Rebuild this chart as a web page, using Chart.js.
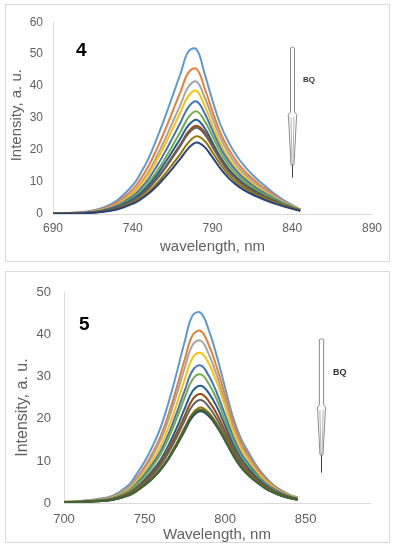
<!DOCTYPE html>
<html>
<head>
<meta charset="utf-8">
<script src="https://cdn.jsdelivr.net/npm/chart.js@4.4.0/dist/chart.umd.min.js"></script>
<style>
  html, body { margin: 0; padding: 0; background: #fff; }
  body { width: 395px; height: 550px; position: relative; overflow: hidden; font-family: "Liberation Sans", Arial, sans-serif; }
  .frame { position: absolute; left: 5px; width: 383px; border: 1px solid #d9d9d9; }
  .frame canvas { display: block; }
  .num { position: absolute; font-weight: bold; font-size: 19px; line-height: 19px; color: #000; }
  .bq { position: absolute; font-weight: bold; color: #333; }
</style>
</head>
<body>
<div class="frame" style="top:4px;height:256px"><canvas id="chart4" width="383" height="256"></canvas></div>
<div class="frame" style="top:271px;height:270px"><canvas id="chart5" width="383" height="270"></canvas></div>
<div class="num" style="left:76px;top:40px">4</div>
<div class="num" style="left:79px;top:314px">5</div>
<div class="bq" style="left:303px;top:75.7px;font-size:8px;line-height:8px">BQ</div>
<div class="bq" style="left:333px;top:368px;font-size:9px;line-height:9px">BQ</div>
<script>
// excel 2013 default series colours
const COLOURS = ["#5B9BD5", "#ED7D31", "#A5A5A5", "#FFC000", "#4472C4", "#70AD47",
                 "#255E91", "#9E480E", "#636363", "#997300", "#264478", "#43682B"];

// ---- compound 4 ----
const WL4 = [690, 700, 710, 720, 730, 740, 745, 750, 755, 760, 765, 770, 775, 780, 785, 790, 795, 800, 805, 810, 815, 820, 825, 830, 835, 840, 845];
const TICKS4 = [690, 740, 790, 840, 890];
const s4a = [0.2, 0.35, 0.7, 1.7, 4.2, 9.0, 12.8, 17.5, 23.5, 30.0, 37.0, 44.0, 50.9, 51.5, 44.0, 35.5, 28.0, 22.5, 18.3, 15.0, 12.3, 10.0, 7.9, 5.9, 4.2, 2.8, 1.4];
const s4b = [0.18, 0.31, 0.6, 1.45, 3.6, 7.7, 11.0, 15.1, 20.2, 25.9, 32.1, 38.3, 44.3, 45.4, 39.5, 32.1, 25.4, 20.4, 16.5, 13.5, 11.1, 9.0, 7.2, 5.4, 3.9, 2.6, 1.4];
const s4c = [0.15, 0.27, 0.53, 1.27, 3.1, 6.8, 9.7, 13.3, 18.0, 23.1, 28.7, 34.3, 39.9, 41.4, 36.6, 30.0, 23.8, 19.0, 15.4, 12.6, 10.4, 8.4, 6.7, 5.1, 3.7, 2.5, 1.35];
const s4d = [0.14, 0.25, 0.49, 1.18, 2.9, 6.3, 9.0, 12.4, 16.7, 21.5, 26.6, 31.9, 37.0, 38.5, 33.9, 27.8, 22.1, 17.6, 14.3, 11.7, 9.6, 7.8, 6.2, 4.7, 3.4, 2.3, 1.26];
const s4e = [0.13, 0.23, 0.44, 1.04, 2.6, 5.6, 8.0, 11.0, 14.9, 19.2, 23.9, 28.7, 33.5, 35.2, 31.6, 26.1, 20.7, 16.6, 13.4, 11.0, 9.0, 7.3, 5.9, 4.5, 3.2, 2.2, 1.25];
const s4f = [0.11, 0.21, 0.39, 0.91, 2.25, 5.0, 7.1, 9.8, 13.2, 17.1, 21.4, 25.8, 30.3, 32.1, 29.2, 24.3, 19.4, 15.4, 12.5, 10.2, 8.4, 6.8, 5.5, 4.2, 3.1, 2.1, 1.23];
const s4g = [0.1, 0.19, 0.36, 0.84, 2.1, 4.6, 6.5, 9.0, 12.1, 15.8, 19.7, 23.7, 27.8, 29.5, 26.9, 22.4, 17.8, 14.2, 11.5, 9.4, 7.7, 6.3, 5.0, 3.9, 2.8, 1.9, 1.13];
const s4h = [0.1, 0.18, 0.32, 0.76, 1.9, 4.1, 5.9, 8.2, 11.1, 14.4, 18.1, 21.9, 25.8, 27.6, 25.6, 21.5, 17.1, 13.6, 11.0, 9.0, 7.4, 6.0, 4.8, 3.7, 2.7, 1.9, 1.13];
const s4i = [0.1, 0.17, 0.32, 0.74, 1.8, 4.0, 5.8, 8.0, 10.8, 14.1, 17.7, 21.4, 25.2, 27.0, 25.0, 21.0, 16.8, 13.3, 10.8, 8.8, 7.2, 5.9, 4.7, 3.6, 2.7, 1.85, 1.11];
const s4j = [0.08, 0.15, 0.28, 0.64, 1.6, 3.5, 5.0, 7.0, 9.5, 12.4, 15.6, 18.9, 22.4, 24.3, 22.9, 19.3, 15.5, 12.3, 9.9, 8.1, 6.6, 5.4, 4.4, 3.4, 2.5, 1.7, 1.07];
const s4k = [0.07, 0.14, 0.25, 0.59, 1.4, 3.2, 4.6, 6.4, 8.7, 11.4, 14.3, 17.4, 20.6, 22.4, 21.0, 17.7, 14.2, 11.3, 9.1, 7.4, 6.1, 5.0, 4.0, 3.1, 2.3, 1.6, 0.98];
const SERIES4 = [s4a, s4b, s4c, s4d, s4e, s4f, s4g, s4h, s4i, s4j, s4k];

// ---- compound 5 ----
const WL5 = [700, 710, 720, 730, 740, 745, 750, 755, 760, 765, 770, 775, 780, 785, 790, 795, 800, 805, 810, 815, 820, 825, 830, 835, 840, 845];
const TICKS5 = [700, 750, 800, 850];
const s5a = [0.3, 0.5, 0.9, 1.7, 4.2, 6.8, 9.8, 13.5, 18.0, 24.0, 31.0, 38.5, 44.7, 45.2, 41.0, 34.8, 27.5, 20.3, 15.2, 11.8, 8.6, 6.2, 4.3, 3.0, 2.0, 1.3];
const s5b = [0.27, 0.44, 0.8, 1.5, 3.7, 5.9, 8.6, 11.9, 15.9, 21.2, 27.5, 34.2, 40.0, 40.9, 37.5, 32.1, 25.6, 19.1, 14.3, 11.0, 8.1, 5.8, 4.1, 2.8, 1.9, 1.24];
const s5c = [0.25, 0.42, 0.75, 1.4, 3.5, 5.6, 8.1, 11.2, 15.0, 20.0, 25.9, 32.2, 37.7, 38.6, 35.3, 30.2, 24.1, 17.9, 13.4, 10.4, 7.6, 5.5, 3.8, 2.7, 1.8, 1.17];
const s5d = [0.23, 0.38, 0.68, 1.27, 3.1, 5.0, 7.3, 10.1, 13.6, 18.1, 23.5, 29.4, 34.6, 35.7, 33.1, 28.6, 23.0, 17.3, 12.9, 9.9, 7.3, 5.3, 3.7, 2.6, 1.75, 1.14];
const s5e = [0.21, 0.35, 0.62, 1.16, 2.8, 4.6, 6.7, 9.3, 12.4, 16.5, 21.5, 26.8, 31.6, 32.7, 30.2, 26.1, 21.0, 15.8, 11.8, 9.1, 6.7, 4.8, 3.4, 2.4, 1.6, 1.04];
const s5f = [0.2, 0.33, 0.58, 1.09, 2.7, 4.3, 6.2, 8.7, 11.6, 15.5, 20.1, 25.1, 29.5, 30.6, 28.3, 24.5, 19.7, 14.8, 11.0, 8.5, 6.3, 4.5, 3.2, 2.2, 1.5, 0.98];
const s5g = [0.18, 0.29, 0.52, 0.96, 2.3, 3.7, 5.5, 7.7, 10.3, 13.8, 17.9, 22.5, 26.7, 27.9, 26.1, 22.8, 18.4, 13.9, 10.4, 8.0, 5.9, 4.3, 3.0, 2.1, 1.43, 0.94];
const s5h = [0.16, 0.27, 0.48, 0.89, 2.2, 3.5, 5.1, 7.1, 9.6, 12.8, 16.6, 20.8, 24.7, 25.9, 24.2, 21.1, 17.1, 12.9, 9.6, 7.4, 5.5, 4.0, 2.8, 1.95, 1.32, 0.87];
const s5i = [0.15, 0.26, 0.46, 0.84, 2.0, 3.3, 4.8, 6.7, 9.0, 12.1, 15.7, 19.7, 23.3, 24.5, 22.8, 19.9, 16.1, 12.2, 9.1, 7.0, 5.2, 3.8, 2.7, 1.84, 1.25, 0.82];
const s5j = [0.14, 0.23, 0.41, 0.76, 1.8, 2.9, 4.4, 6.1, 8.2, 10.9, 14.3, 18.0, 21.4, 22.7, 21.4, 18.8, 15.4, 11.7, 8.7, 6.7, 5.0, 3.6, 2.6, 1.78, 1.21, 0.8];
const s5k = [0.14, 0.22, 0.4, 0.73, 1.75, 2.8, 4.2, 5.8, 7.9, 10.5, 13.7, 17.2, 20.6, 21.8, 20.6, 18.1, 14.8, 11.3, 8.4, 6.4, 4.8, 3.5, 2.5, 1.71, 1.17, 0.77];
const s5l = [0.14, 0.23, 0.41, 0.74, 1.8, 2.85, 4.3, 5.9, 8.0, 10.7, 13.9, 17.6, 21.0, 22.2, 21.0, 18.4, 15.0, 11.5, 8.5, 6.5, 4.9, 3.5, 2.5, 1.74, 1.19, 0.78];
const SERIES5 = [s5a, s5b, s5c, s5d, s5e, s5f, s5g, s5h, s5i, s5j, s5k, s5l];

const FONT = "'Liberation Sans', Arial, sans-serif";
const GREY = "#606060";

// rotated y axis title, drawn where the original has it
const sideTitle = {
    id: 'sideTitle',
    afterDraw(chart, args, o) {
        if (!o || !o.text) return;
        const ctx = chart.ctx;
        ctx.save();
        ctx.translate(o.x, o.y);
        ctx.rotate(-Math.PI / 2);
        ctx.font = o.size + "px " + FONT;
        ctx.fillStyle = GREY;
        ctx.textAlign = 'center';
        ctx.textBaseline = 'middle';
        ctx.fillText(o.text, 0, 0);
        ctx.restore();
    }
};

// the little "BQ" pipette arrow
const bqArrow = {
    id: 'bqArrow',
    afterDatasetsDraw(chart, args, o) {
        if (!o || o.at == null) return;
        const {ctx, scales} = chart;
        const cx = Math.round(scales.x.getPixelForValue(o.at)) + 0.5;
        const yt = scales.y.getPixelForValue(o.top);
        const yn = scales.y.getPixelForValue(o.neck);
        const yp = scales.y.getPixelForValue(o.tip);
        const ye = scales.y.getPixelForValue(o.end);
        const w = o.tube / 2, W = o.collar / 2;
        ctx.save();
        ctx.lineWidth = 1;
        ctx.strokeStyle = '#8a8a8a';
        ctx.fillStyle = '#fff';
        ctx.beginPath();
        ctx.moveTo(cx - w, yt + 1);
        ctx.lineTo(cx - w, yn);
        ctx.lineTo(cx - W, yn + 3);
        ctx.lineTo(cx - W + 0.5, yn + 5);
        ctx.lineTo(cx - 1.5, yp);
        ctx.lineTo(cx + 1.5, yp);
        ctx.lineTo(cx + W - 0.5, yn + 5);
        ctx.lineTo(cx + W, yn + 3);
        ctx.lineTo(cx + w, yn);
        ctx.lineTo(cx + w, yt + 1);
        ctx.quadraticCurveTo(cx, yt - 1, cx - w, yt + 1);
        ctx.closePath();
        ctx.fill();
        ctx.stroke();
        ctx.strokeStyle = '#b5b5b5';
        ctx.beginPath();
        ctx.moveTo(cx - w + 0.5, yn + 5); ctx.lineTo(cx - 0.5, yp);
        ctx.moveTo(cx + w - 0.5, yn + 5); ctx.lineTo(cx + 0.5, yp);
        ctx.stroke();
        ctx.strokeStyle = '#444';
        ctx.beginPath();
        ctx.moveTo(cx, yp);
        ctx.lineTo(cx, ye);
        ctx.stroke();
        ctx.restore();
    }
};

function makeChart(id, wl, series, opt) {
    let datasets = [];
    series.forEach((vals, i) => {
        datasets.push({
            data: vals.map((v, k) => ({x: wl[k], y: v})),
            borderColor: COLOURS[i],
            backgroundColor: COLOURS[i],
            borderWidth: 2,
            pointRadius: 0,
            tension: 0.4,
            fill: false,
            order: series.length - i,   // first series at the back, like excel
        });
    });

    return new Chart(document.getElementById(id), {
        type: 'line',
        data: { datasets: datasets },
        options: {
            responsive: false,
            animation: false,
            devicePixelRatio: 1,
            layout: { padding: opt.padding },
            plugins: {
                legend: { display: false },
                tooltip: { enabled: false },
                sideTitle: opt.yTitle,
                bqArrow: opt.arrow,
            },
            scales: {
                x: {
                    type: 'linear',
                    min: opt.xMin,
                    max: opt.xMax,
                    grid: { display: false, drawTicks: false },
                    border: { display: true, color: '#d9d9d9' },
                    afterBuildTicks: s => { s.ticks = opt.xTicks.map(v => ({value: v})); },
                    ticks: { color: GREY, font: { family: FONT, size: opt.tickSize }, padding: opt.xPad, maxRotation: 0, autoSkip: false },
                    title: {
                        display: true, text: opt.xTitle, color: GREY,
                        font: { family: FONT, size: 15, lineHeight: opt.xTitleLH },
                        padding: { top: 0, bottom: opt.xTitlePad }
                    },
                    afterFit: s => { s.height = opt.xHeight; }
                },
                y: {
                    min: 0,
                    max: opt.yMax,
                    grid: { display: false, drawTicks: false },
                    border: { display: true, color: '#d9d9d9' },
                    ticks: { stepSize: 10, color: GREY, font: { family: FONT, size: opt.tickSize }, padding: opt.yPad },
                    afterFit: s => { s.width = opt.yWidth; }
                }
            }
        },
        plugins: [sideTitle, bqArrow]
    });
}

makeChart('chart4', WL4, SERIES4, {
    padding: { top: 12, right: 17, left: 0, bottom: 0 },
    xMin: 690, xMax: 890, xTicks: TICKS4, yMax: 60,
    tickSize: 12, xPad: 7, yPad: 10,
    xTitle: "wavelength, nm", xTitleLH: 1.2, xTitlePad: 5,
    xHeight: 47, yWidth: 47,
    yTitle: { text: "Intensity, a. u.", x: 10.7, y: 110.2, size: 15 },
    arrow: { at: 839.8, top: 52.2, neck: 31.9, tip: 15.4, end: 11.4, tube: 4, collar: 9 },
});

makeChart('chart5', WL5, SERIES5, {
    padding: { top: 14, right: 19, left: 0, bottom: 0 },
    xMin: 700, xMax: 890, xTicks: TICKS5, yMax: 50,
    tickSize: 13, xPad: 9, yPad: 13,
    xTitle: "Wavelength, nm", xTitleLH: 1, xTitlePad: 0,
    xHeight: 39, yWidth: 58,
    yTitle: { text: "Intensity, a. u.", x: 16.7, y: 135.6, size: 16 },
    arrow: { at: 859.4, top: 39.1, neck: 23.3, tip: 11.45, end: 7.2, tube: 4.3, collar: 8.7 },
});
</script>
</body>
</html>
